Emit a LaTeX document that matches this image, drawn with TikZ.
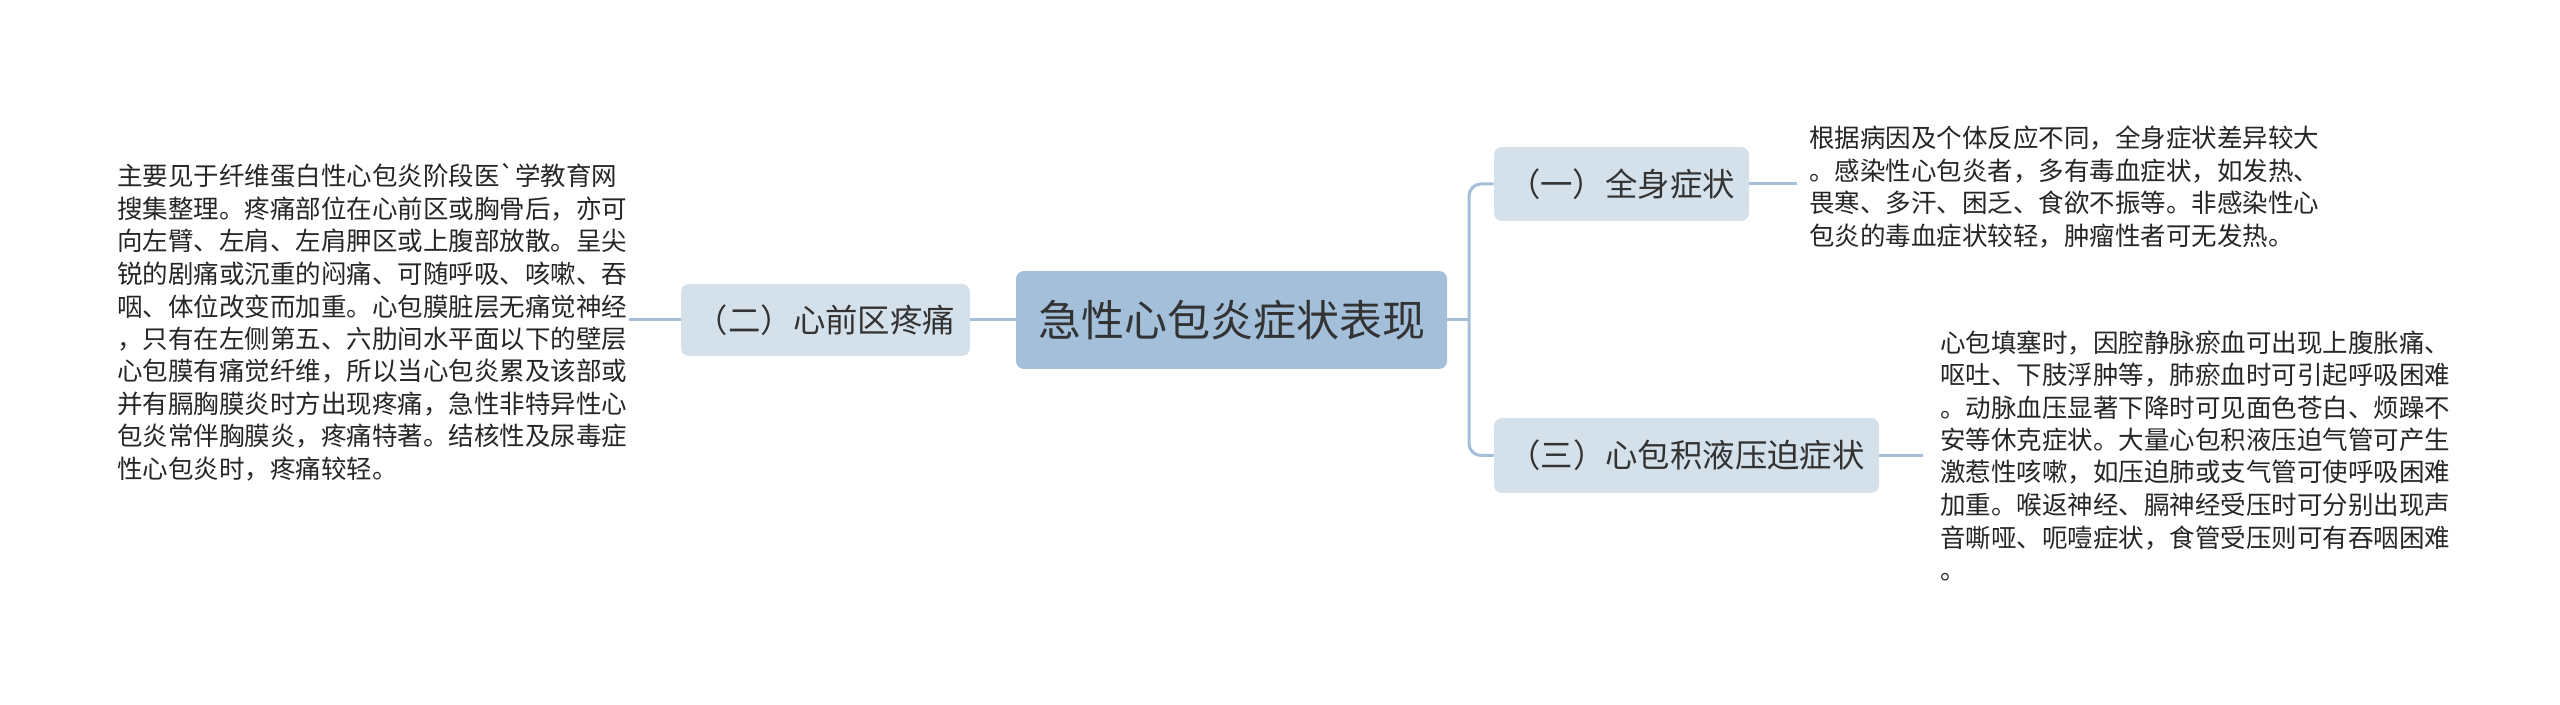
\documentclass[tikz,border=0pt]{standalone}
\usepackage{fontspec}
\newfontfamily\cjk{Noto Sans CJK SC}
\definecolor{rootfill}{HTML}{A3BFDA}
\definecolor{subfill}{HTML}{D5E1EA}
\definecolor{linkc}{HTML}{A3BFDA}
\definecolor{txt}{HTML}{333333}
\tikzset{
  rootbox/.style={fill=rootfill, rounded corners=4pt, inner sep=0pt, text=txt, font=\cjk\fontsize{21.5}{25}\selectfont},
  subbox/.style={fill=subfill, rounded corners=4pt, inner sep=0pt, text=txt, font=\cjk\fontsize{16.2}{19}\selectfont},
  leaftext/.style={inner sep=0pt, align=left, anchor=base west, text=black!85, font=\cjk\fontsize{12.75}{16.25}\selectfont},
  link/.style={draw=linkc, line width=1.5pt}
}
\begin{document}
\begin{tikzpicture}[x=0.5pt,y=-0.5pt]
\useasboundingbox[fill=white] (0,0) rectangle (2560,705);
\node[rootbox, minimum width=215.5pt, minimum height=49pt] (root) at (1231.5,320) {急性心包炎症状表现};
\node[subbox, minimum width=144.5pt, minimum height=36pt] (b2) at (825.5,320) {（二）心前区疼痛};
\node[subbox, minimum width=127.5pt, minimum height=37pt] (b1) at (1621.5,184) {（一）全身症状};
\node[subbox, minimum width=192.5pt, minimum height=37.5pt] (b3) at (1686.5,455.5) {（三）心包积液压迫症状};
\node[leaftext] (t2) at (117,478.5) {主要见于纤维蛋白性心包炎阶段医\char96\relax 学教育网\\搜集整理。疼痛部位在心前区或胸骨后，亦可\\向左臂、左肩、左肩胛区或上腹部放散。呈尖\\锐的剧痛或沉重的闷痛、可随呼吸、咳嗽、吞\\咽、体位改变而加重。心包膜脏层无痛觉神经\\，只有在左侧第五、六肋间水平面以下的壁层\\心包膜有痛觉纤维，所以当心包炎累及该部或\\并有膈胸膜炎时方出现疼痛，急性非特异性心\\包炎常伴胸膜炎，疼痛特著。结核性及尿毒症\\性心包炎时，疼痛较轻。};
\node[leaftext] (t1) at (1809,245.5) {根据病因及个体反应不同，全身症状差异较大\\。感染性心包炎者，多有毒血症状，如发热、\\畏寒、多汗、困乏、食欲不振等。非感染性心\\包炎的毒血症状较轻，肿瘤性者可无发热。};
\node[leaftext] (t3) at (1940,579.5) {心包填塞时，因腔静脉瘀血可出现上腹胀痛、\\呕吐、下肢浮肿等，肺瘀血时可引起呼吸困难\\。动脉血压显著下降时可见面色苍白、烦躁不\\安等休克症状。大量心包积液压迫气管可产生\\激惹性咳嗽，如压迫肺或支气管可使呼吸困难\\加重。喉返神经、膈神经受压时可分别出现声\\音嘶哑、呃噎症状，食管受压则可有吞咽困难\\。};
\coordinate (j) at (1469,320);
\coordinate (e1) at (1797,184);
\coordinate (e3) at (1923,455.5);
\coordinate (e2) at (629,320);
\draw[link] (root.east) -- (j);
\draw[link, rounded corners=6pt] (j) |- (b1.west);
\draw[link, rounded corners=6pt] (j) |- (b3.west);
\draw[link] (b1.east) -- (e1);
\draw[link] (b3.east) -- (e3);
\draw[link] (root.west) -- (b2.east);
\draw[link] (b2.west) -- (e2);
\end{tikzpicture}
\end{document}
